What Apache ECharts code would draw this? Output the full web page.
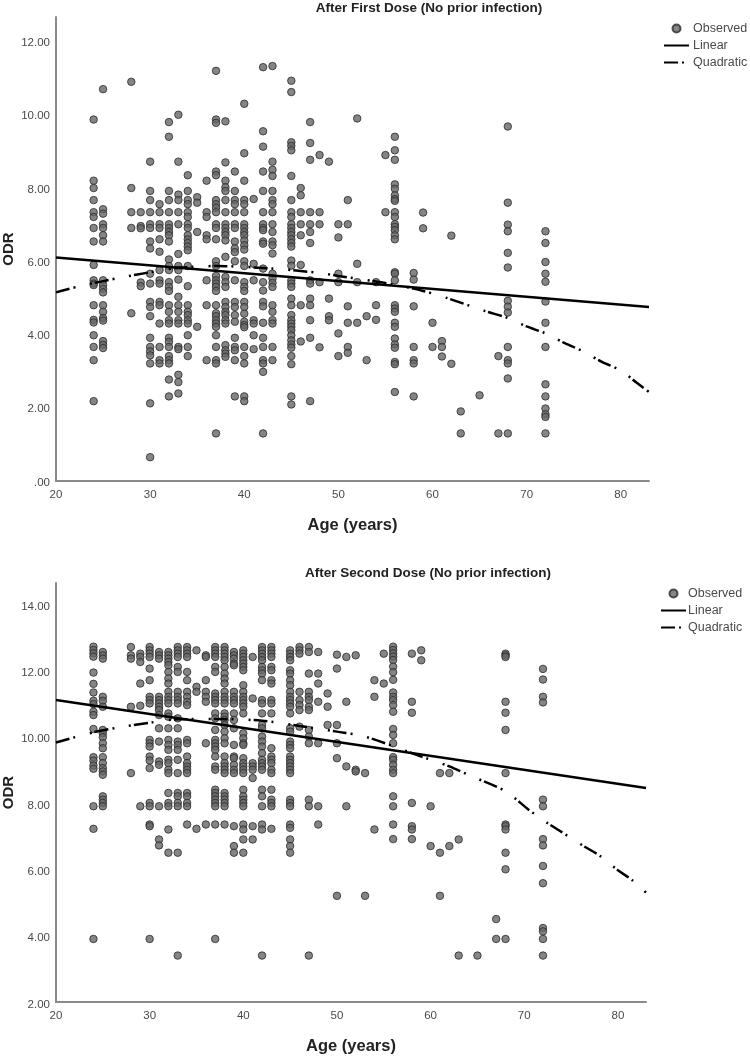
<!DOCTYPE html>
<html><head><meta charset="utf-8">
<style>html,body{margin:0;padding:0;background:#fff}#c{width:750px;height:1056px}</style>
<script src="https://cdn.jsdelivr.net/npm/echarts@6/dist/echarts.min.js"></script>
</head><body><div id="c"></div>
<script>
// After First Dose: ODR readings by age
const a24=[9.87,8.2,8.0,7.67,7.34,7.21,6.91,6.54,5.9,5.48,5.39,5.35,4.8,4.4,4.33,3.98,3.66,3.3,2.18];
const a25=[10.7,7.42,7.3,7.01,6.91,6.71,6.54,5.48,5.35,5.25,5.15,4.8,4.62,4.45,4.38,3.82,3.72,3.63];
const a28=[10.9,8.0,7.34,6.91,4.58];
const a29=[7.34,6.96,6.9,5.42,5.32];
const a30=[8.72,7.92,7.67,7.34,7.01,6.91,6.54,6.35,5.66,5.39,4.89,4.75,4.5,3.91,3.66,3.54,3.43,3.21,2.12,0.65];
const a31=[7.56,7.34,7.01,6.91,6.6,6.26,5.76,5.48,5.39,4.89,4.8,4.3,3.66,3.3,3.21];
const a32=[9.8,9.4,7.92,7.67,7.34,7.01,6.91,6.8,6.71,6.54,6.05,5.87,5.76,5.43,5.3,5.19,4.8,4.62,4.39,4.3,3.91,3.8,3.66,3.41,3.3,3.21,2.77,2.31];
const a33=[10.0,8.72,7.82,7.67,7.34,7.01,6.2,5.87,5.76,5.5,5.03,4.8,4.62,4.39,4.3,3.66,3.6,2.9,2.7,2.39];
const a34=[8.35,7.92,7.67,7.56,7.34,7.21,7.01,6.91,6.71,6.6,6.5,6.4,6.3,5.87,5.32,4.8,4.62,4.53,4.39,4.3,3.98,3.66,3.41];
const a35=[7.75,7.6,6.8,4.21];
const a36=[8.2,7.34,7.21,6.71,6.6,5.48,4.8,3.3];
const a37=[11.2,9.87,9.78,8.45,8.35,7.67,7.56,7.46,7.34,7.01,6.91,6.6,6.0,5.87,5.6,5.48,5.39,5.3,5.19,4.8,4.58,4.5,4.39,4.3,4.21,3.98,3.66,3.3,3.21,1.3];
const a38=[9.82,8.7,8.2,8.02,7.92,7.67,7.34,7.01,6.91,6.8,6.71,6.57,6.12,5.57,5.43,5.3,4.89,4.75,4.62,4.53,4.39,4.3,3.71,3.57,3.48,3.39];
const a39=[8.45,7.92,7.67,7.56,7.34,7.01,6.91,6.54,6.35,6.25,6.0,5.48,4.89,4.75,4.53,4.35,3.91,3.66,3.57,3.3,2.31];
const a40=[10.3,8.95,8.2,7.67,7.56,7.34,7.01,6.91,6.8,6.71,6.57,6.44,6.32,6.0,5.87,5.43,5.3,5.19,4.89,4.75,4.57,4.35,4.26,4.2,3.66,3.41,3.21,2.31,2.18];
const a41=[7.7,5.93,5.48,4.39,4.3,3.98,3.6];
const a42=[11.3,9.55,9.13,8.45,7.92,7.34,7.01,6.91,6.85,6.54,6.48,5.8,5.43,5.2,4.89,4.77,4.32,3.91,3.66,3.3,3.21,2.98,1.3];
const a43=[11.33,8.72,8.5,8.33,7.92,7.67,7.56,7.34,7.01,6.8,6.54,6.44,6.21,5.66,5.53,5.41,5.3,4.8,4.62,4.39,4.3,3.66,3.3];
const a45=[10.93,10.62,9.25,9.15,9.03,8.33,7.67,7.34,7.21,7.01,6.91,6.8,6.71,6.6,6.5,6.4,6.02,5.88,5.48,5.39,5.3,4.98,4.8,4.53,4.39,4.3,4.21,4.12,3.98,3.84,3.73,3.64,3.41,3.19,2.31,2.09];
const a46=[8.0,7.8,7.34,7.01,6.71,5.9,4.8,3.81];
const a47=[9.8,9.23,8.77,7.34,7.01,6.8,6.5,5.48,5.39,4.98,4.8,4.39,3.91,2.18];
const a48=[8.9,7.34,7.01,5.43,3.65];
const a49=[8.72,4.98,4.5,4.39];
const a50=[7.01,6.65,5.66,5.43,4.03,3.41];
const a51=[7.67,7.01,4.77,4.32,3.66,3.5];
const a52=[9.9,5.93,5.43,4.32];
const a53=[4.5,3.3];
const a54=[5.43,4.8,4.4];
const a55=[8.9,7.34];
const a56=[9.4,9.03,8.77,8.1,7.98,7.8,7.7,7.65,7.34,7.21,7.01,6.94,6.85,6.71,6.6,5.7,5.66,5.48,4.8,4.71,4.62,4.32,4.21,3.89,3.73,3.64,3.25,3.19,2.43];
const a58=[5.68,5.5,4.77,3.66,3.3,3.21,2.31];
const a59=[7.33,6.9];
const a60=[4.32,3.66];
const a61=[3.82,3.66,3.4];
const a62=[6.7,3.2];
const a63=[1.9,1.3];
const a65=[2.34];
const a67=[3.41,1.3];
const a68=[9.68,7.6,7.0,6.82,6.23,5.83,4.92,4.76,4.6,3.66,3.3,3.21,2.8,1.3];
const a72=[6.82,6.5,5.98,5.66,5.44,4.9,4.32,3.66,2.64,2.31,1.98,1.82,1.75,1.3];
const firstAges=[24,25,28,29,30,31,32,33,34,35,36,37,38,39,40,41,42,43,45,46,47,48,49,50,51,52,53,54,55,56,58,59,60,61,62,63,65,67,68,72];
const firstCols=[a24,a25,a28,a29,a30,a31,a32,a33,a34,a35,a36,a37,a38,a39,a40,a41,a42,a43,a45,a46,a47,a48,a49,a50,a51,a52,a53,a54,a55,a56,a58,a59,a60,a61,a62,a63,a65,a67,a68,a72];
const firstLinearX=[20,83], firstLinearY=[6.1,4.75];
const firstQuadX=[20,22.5,27,30,33,37,43,48,50,54,56,59,61.5,65.6,68,70,72,74,76,78,80,81.7,83];
const firstQuadY=[5.15,5.32,5.56,5.7,5.82,5.87,5.8,5.68,5.6,5.45,5.36,5.19,5.0,4.64,4.45,4.22,4.03,3.77,3.54,3.25,3.02,2.68,2.43];

// After Second Dose: ODR readings by age
const b24=[12.71,12.61,12.51,12.41,11.93,11.59,11.33,11.08,10.98,10.75,10.65,10.23,9.38,9.28,9.13,9.03,7.9,7.22,3.9];
const b25=[12.55,12.45,12.35,11.2,11.08,10.9,10.2,10.1,9.98,9.8,9.65,9.38,9.2,9.05,8.95,8.85,8.2,8.1,8.0,7.9];
const b28=[12.7,12.45,12.35,10.9,8.9];
const b29=[12.5,12.4,12.25,11.6,10.93,7.9];
const b30=[12.7,12.6,12.5,12.4,12.05,11.7,11.2,11.1,11.0,9.9,9.8,9.7,9.4,9.28,9.05,8.0,7.9,7.35,7.3,3.9];
const b31=[12.55,12.45,12.35,11.2,11.1,11.0,10.9,10.8,10.65,10.25,9.85,9.25,9.15,7.9,6.9,6.72];
const b32=[12.55,12.45,12.35,12.25,12.15,11.95,11.75,11.6,11.35,11.2,11.1,11.0,10.7,10.6,10.25,9.9,9.75,9.6,9.3,9.2,9.0,8.9,8.3,8.0,7.9,7.2,6.5];
const b33=[12.7,12.6,12.5,12.4,12.1,11.95,11.35,11.2,11.1,11.0,10.55,10.25,9.85,9.75,9.6,9.3,8.9,8.3,8.2,8.0,7.9,6.5,3.4];
const b34=[12.7,12.6,12.5,12.4,11.95,11.7,11.35,11.2,11.05,10.95,9.9,9.8,9.4,9.2,9.1,9.0,8.9,8.3,8.2,8.0,7.9,7.35];
const b35=[12.6,11.5,11.35,7.22];
const b36=[12.45,12.4,11.7,11.35,11.2,11.05,9.8,7.35];
const b37=[12.7,12.6,12.5,12.4,12.1,11.95,11.3,11.2,11.1,11.0,10.7,10.55,10.2,9.9,9.8,9.7,9.6,9.4,9.1,9.0,8.4,8.3,8.2,8.1,8.0,7.9,7.35,3.9];
const b38=[12.7,12.6,12.5,12.4,12.3,12.1,11.9,11.75,11.6,11.35,11.2,11.1,11.0,10.7,10.6,10.5,10.35,10.15,9.95,9.8,9.4,9.2,9.1,9.0,8.9,8.3,8.2,8.1,8.0,7.9,7.35];
const b39=[12.55,12.45,12.35,12.2,12.15,11.35,11.2,11.1,11.0,10.7,10.5,10.25,9.75,9.4,9.35,9.15,9.0,8.9,7.3,6.7,6.5];
const b40=[12.6,12.5,12.4,12.3,12.2,12.1,12.0,11.55,11.35,11.2,11.1,11.0,10.9,10.7,10.1,9.95,9.8,9.75,9.35,9.2,9.1,9.0,8.9,8.4,8.2,8.1,8.0,7.9,7.35,7.2,6.9,6.5];
const b41=[12.4,11.15,9.2,9.1,9.0,8.75,7.3,6.9];
const b42=[12.7,12.6,12.5,12.4,12.3,12.1,12.0,11.9,11.7,11.1,11.0,10.7,10.35,10.25,10.0,9.85,9.7,9.5,9.3,9.2,9.1,9.0,8.4,8.2,7.9,7.35,7.2,3.4];
const b43=[12.7,12.6,12.5,12.4,12.1,12.0,11.7,11.6,11.1,11.0,10.7,9.65,9.4,9.3,9.2,9.0,8.9,8.4,8.1,8.0,7.9,7.22];
const b45=[12.6,12.5,12.4,12.3,12.0,11.9,11.7,11.55,11.35,11.2,11.1,11.0,10.9,10.7,10.25,10.15,9.85,9.75,9.65,9.4,9.3,9.2,9.1,9.0,8.9,8.1,8.0,7.9,7.35,7.25,6.9,6.7,6.5];
const b46=[12.7,12.6,12.5,11.35,11.1,10.95,10.8,10.3];
const b47=[12.7,12.55,11.9,11.35,11.2,11.1,10.9,10.8,10.2,10.0,9.8,8.1,7.9,3.4];
const b48=[12.55,11.9,11.6,11.05,9.8,7.9,7.35];
const b49=[11.3,10.9,10.35];
const b50=[12.47,12.05,10.35,9.8,9.35,5.2];
const b51=[12.4,11.05,9.1,7.9];
const b52=[12.45,9.0,8.95];
const b53=[8.9,5.2];
const b54=[11.7,11.2,7.2];
const b55=[12.5,11.6];
const b56=[12.71,12.61,12.51,12.41,12.31,12.11,11.94,11.71,11.33,11.2,11.1,10.95,10.75,10.23,10.05,9.8,9.38,9.3,9.15,9.0,8.9,8.2,7.9,7.35,6.91];
const b58=[12.5,11.05,10.72,8.0,7.3,7.2,6.91];
const b59=[12.6,12.3];
const b60=[7.9,6.7];
const b61=[8.9,6.5,5.2];
const b62=[8.9,6.7];
const b63=[6.9,3.4];
const b65=[3.4];
const b67=[4.5,3.9];
const b68=[12.5,12.45,12.4,11.05,10.72,10.2,8.9,7.35,7.3,7.2,6.5,6.0,3.9];
const b72=[12.04,11.72,11.2,11.03,8.1,7.9,6.91,6.72,6.1,5.58,4.23,4.13,3.9,3.4];
const secondAges=[24,25,28,29,30,31,32,33,34,35,36,37,38,39,40,41,42,43,45,46,47,48,49,50,51,52,53,54,55,56,58,59,60,61,62,63,65,67,68,72];
const secondCols=[b24,b25,b28,b29,b30,b31,b32,b33,b34,b35,b36,b37,b38,b39,b40,b41,b42,b43,b45,b46,b47,b48,b49,b50,b51,b52,b53,b54,b55,b56,b58,b59,b60,b61,b62,b63,b65,b67,b68,b72];
const secondLinearX=[20,83], secondLinearY=[11.1,8.45];
const secondQuadX=[20,24,27,30,33,37,42,46,50,53,59,62,64,68,70.5,72.5,74,76.4,78,80,81.5,83];
const secondQuadY=[9.82,10.13,10.29,10.42,10.52,10.53,10.48,10.32,10.15,10.0,9.4,9.1,8.85,8.35,7.79,7.39,7.12,6.69,6.42,5.97,5.68,5.3];

const titles=['After First Dose (No prior infection)','After Second Dose (No prior infection)'];
const legendNames=['Observed','Linear','Quadratic'];
const xTitle='Age (years)', yTitle='ODR';

const FONT='"Liberation Sans", Arial, sans-serif';
const pairs=(xs,ys)=>xs.map((x,i)=>[x,ys[i]]);
const flat=(ages,cols)=>ages.flatMap((a,i)=>cols[i].map(v=>[a,v]));
const chart=echarts.init(document.getElementById('c'),null,{renderer:'canvas'});

function axes(idx,yMin,yMax){
  const axisLine={show:true,onZero:false,lineStyle:{color:'#8a8a8a',width:2}};
  return {
    x:{type:'value',gridIndex:idx,min:20,max:83,interval:10,splitLine:{show:false},axisTick:{show:false},axisLine,
       axisLabel:{color:'#4a4a4a',fontFamily:FONT,fontSize:11.5,margin:8,showMaxLabel:false},
       name:xTitle,nameLocation:'middle',nameGap:36,nameTextStyle:{color:'#222',fontFamily:FONT,fontWeight:'bold',fontSize:16.5}},
    y:{type:'value',gridIndex:idx,min:yMin,max:yMax,interval:2,splitLine:{show:false},axisTick:{show:false},axisLine,
       axisLabel:{color:'#4a4a4a',fontFamily:FONT,fontSize:11.5,margin:6,showMaxLabel:false,verticalAlign:'top',lineHeight:idx?5:3,formatter:v=>v===0?'.00':v.toFixed(2)},
       name:yTitle,nameLocation:'middle',nameGap:40,nameMoveOverlap:false,nameTextStyle:{color:'#222',fontFamily:FONT,fontWeight:'bold',fontSize:15}}
  };
}
const A0=axes(0,0,12.67), A1=axes(1,2,14.63);
function seriesFor(i,obs,lx,ly,qx,qy){
  return [
    {name:legendNames[0],type:'scatter',xAxisIndex:i,yAxisIndex:i,data:obs,symbol:'circle',symbolSize:7.5,z:2,
     itemStyle:{color:'#666',borderColor:'#2b2b2b',borderWidth:1}},
    {name:legendNames[1],type:'line',xAxisIndex:i,yAxisIndex:i,data:pairs(lx,ly),symbol:'none',z:3,
     itemStyle:{color:'#000'},lineStyle:{color:'#000',width:2.5}},
    {name:legendNames[2],type:'line',xAxisIndex:i,yAxisIndex:i,data:pairs(qx,qy),symbol:'none',smooth:0.3,z:3,
     itemStyle:{color:'#000'},lineStyle:{color:'#000',width:2.5,type:[14,4,2,15,2,3]}}
  ];
}
const hidden={color:'transparent',borderWidth:0,opacity:0};
const legendItems=[{name:legendNames[0]},{name:legendNames[1],itemStyle:hidden},{name:legendNames[2],itemStyle:hidden}];
const legendBase={orient:'vertical',itemWidth:25,itemHeight:8,itemGap:4,selectedMode:false,padding:0};
const legendText=(pad)=>({color:'#4a4a4a',fontFamily:FONT,fontSize:12.5,padding:[0,0,0,pad]});
chart.setOption({
  animation:false,backgroundColor:'#fff',
  title:[
    {text:titles[0],left:429,top:1,padding:0,textAlign:'center',textStyle:{color:'#222',fontFamily:FONT,fontWeight:'bold',fontSize:13.5}},
    {text:titles[1],left:428,top:566,padding:0,textAlign:'center',textStyle:{color:'#222',fontFamily:FONT,fontWeight:'bold',fontSize:13.5}}
  ],
  grid:[
    {left:56,top:17,width:593,height:464,outerBoundsMode:'none'},
    {left:56,top:583,width:590,height:419,outerBoundsMode:'none'}
  ],
  xAxis:[A0.x,A1.x],yAxis:[A0.y,A1.y],
  legend:[
    Object.assign({},legendBase,{left:663,top:22,data:legendItems,textStyle:legendText(-1)}),
    Object.assign({},legendBase,{left:660,top:587,data:legendItems,textStyle:legendText(-3)})
  ],
  series:[...seriesFor(0,flat(firstAges,firstCols),firstLinearX,firstLinearY,firstQuadX,firstQuadY),
          ...seriesFor(1,flat(secondAges,secondCols),secondLinearX,secondLinearY,secondQuadX,secondQuadY)]
});
</script></body></html>
